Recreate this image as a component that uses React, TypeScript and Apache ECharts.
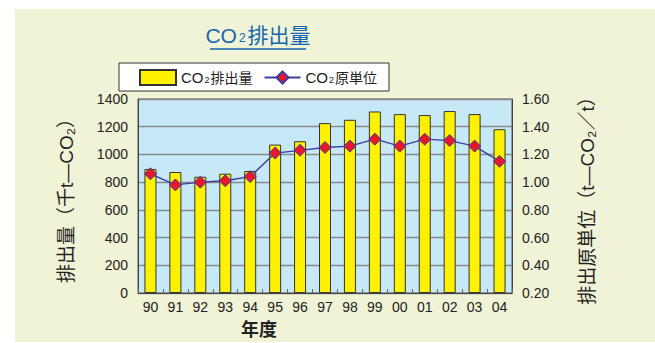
import React, { useEffect, useRef } from "react";
import * as echarts from "echarts";

const years = ["90", "91", "92", "93", "94", "95", "96", "97", "98", "99", "00", "01", "02", "03", "04"];
const emissions = [895, 873, 839, 861, 880, 1071, 1095, 1226, 1250, 1310, 1291, 1284, 1313, 1291, 1182];
const intensity = [1.06, 0.98, 1.0, 1.01, 1.04, 1.21, 1.23, 1.25, 1.26, 1.31, 1.26, 1.31, 1.3, 1.26, 1.15];
const leftTicks = { min: 0, max: 1400, interval: 200 };
const rightTicks = { min: 0.2, max: 1.6, interval: 0.2 };

const FONT = "'Liberation Sans', 'Noto Sans CJK JP', sans-serif";

export default function App() {
  const ref = useRef<HTMLDivElement>(null);
  useEffect(() => {
    if (!ref.current) return;
    const chart = echarts.init(ref.current, undefined, { renderer: "svg" });
    chart.setOption({
      animation: false,
      backgroundColor: "#ffffff",
      textStyle: { fontFamily: FONT },
      graphic: [
        {
          type: "rect",
          z: -10,
          shape: { x: 15, y: 9, width: 640, height: 333 },
          style: { fill: "#F0F3D6" },
        },
        {
          type: "text",
          x: 258,
          y: 35,
          style: {
            text: "{a|CO}{b|2}{a|排出量}",
            align: "center",
            verticalAlign: "middle",
            fill: "#1565B0",
            fontFamily: FONT,
            rich: {
              a: { fontSize: 21, fontFamily: FONT, fill: "#1565B0", color: "#1565B0" },
              b: { fontSize: 12, fontFamily: FONT, fill: "#1565B0", color: "#1565B0", padding: [6, 2, 0, 2] },
            },
          },
        },
        {
          type: "line",
          shape: { x1: 210, y1: 49, x2: 306, y2: 49 },
          style: { stroke: "#1565B0", lineWidth: 1.5 },
        },
        {
          type: "text",
          x: 259,
          y: 330,
          style: {
            text: "年度",
            align: "center",
            verticalAlign: "middle",
            fontSize: 18,
            fontWeight: "bold",
            fill: "#222",
            fontFamily: FONT,
          },
        },
      ],
      legend: {
        left: 119,
        top: 63,
        padding: [6, 12, 5, 20],
        backgroundColor: "#ffffff",
        borderColor: "#333",
        borderWidth: 1,
        borderRadius: 0,
        itemWidth: 36,
        itemHeight: 15,
        itemGap: 11,
        data: [
          { name: "CO2排出量", icon: "rect" },
          { name: "CO2原単位" },
        ],
        formatter: (name: string) => "{a|CO}{b|2}{c|" + name.slice(3) + "}",
        textStyle: {
          fontFamily: FONT,
          color: "#222",
          rich: {
            a: { fontSize: 15, fontFamily: FONT, color: "#222" },
            b: { fontSize: 9, fontFamily: FONT, color: "#222", padding: [4, 1, 0, 1] },
            c: { fontSize: 14, fontFamily: FONT, color: "#222" },
          },
        },
      },
      grid: {
        left: 138,
        top: 99,
        right: 143,
        bottom: 50,
        show: true,
        backgroundColor: "#C6E8F7",
        borderColor: "#555",
        borderWidth: 1,
      },
      xAxis: {
        type: "category",
        data: years,
        axisLine: { lineStyle: { color: "#444", width: 1 } },
        axisTick: { show: true, inside: true, length: 4, lineStyle: { color: "#666" } },
        axisLabel: { fontSize: 14, color: "#222", margin: 7, fontFamily: FONT },
      },
      yAxis: [
        {
          type: "value",
          min: leftTicks.min,
          max: leftTicks.max,
          interval: leftTicks.interval,
          position: "left",
          axisLine: { show: true, lineStyle: { color: "#444" } },
          axisTick: { show: false },
          axisLabel: {
            fontSize: 14,
            color: "#222",
            margin: 10,
            fontFamily: FONT,
            formatter: (v: number) => String(v),
          },
          splitLine: { show: true, lineStyle: { color: "#8A8A8A", width: 1.3 } },
          name: "排出量（千t—CO₂）",
          nameLocation: "middle",
          nameRotate: 90,
          nameGap: 62,
          nameTextStyle: { fontSize: 19, color: "#222", fontFamily: FONT },
        },
        {
          type: "value",
          min: rightTicks.min,
          max: rightTicks.max,
          interval: rightTicks.interval,
          position: "right",
          axisLine: { show: true, lineStyle: { color: "#444" } },
          axisTick: { show: false },
          axisLabel: {
            fontSize: 14,
            color: "#222",
            margin: 10,
            fontFamily: FONT,
            formatter: (v: number) => v.toFixed(2),
          },
          splitLine: { show: false },
          name: "排出原単位（t—CO₂／t）",
          nameLocation: "middle",
          nameRotate: 90,
          nameGap: 66,
          nameTextStyle: { fontSize: 19, color: "#222", fontFamily: FONT },
        },
      ],
      series: [
        {
          name: "CO2排出量",
          type: "bar",
          data: emissions,
          barWidth: 12,
          yAxisIndex: 0,
          itemStyle: { color: "#FFF200", borderColor: "#333", borderWidth: 1 },
        },
        {
          name: "CO2原単位",
          type: "line",
          data: intensity,
          yAxisIndex: 1,
          symbol: "diamond",
          symbolSize: 12,
          lineStyle: { color: "#3C3C9E", width: 1.3 },
          itemStyle: { color: "#E8182C", borderColor: "#3C3C9E", borderWidth: 1 },
        },
      ],
    });
    return () => chart.dispose();
  }, []);
  return (
    <div
      ref={ref}
      style={{ position: "fixed", left: 0, top: 0, width: 655, height: 343 }}
    />
  );
}
